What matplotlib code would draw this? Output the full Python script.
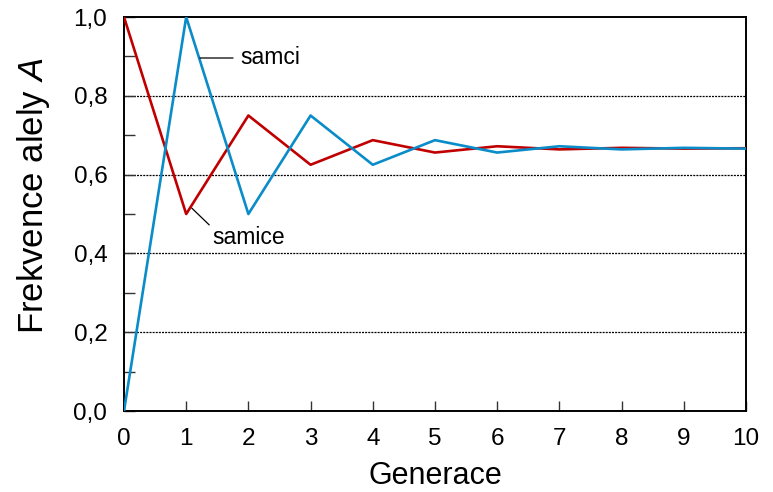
import matplotlib
matplotlib.use("Agg")
import matplotlib.pyplot as plt
from matplotlib.ticker import FixedLocator, FuncFormatter, MultipleLocator

plt.rcParams['font.family'] = ['Liberation Sans', 'DejaVu Sans']
plt.rcParams['mathtext.fontset'] = 'custom'
plt.rcParams['mathtext.rm'] = 'Liberation Sans'
plt.rcParams['mathtext.it'] = 'Liberation Sans:italic'

generace = [0, 1, 2, 3, 4, 5, 6, 7, 8, 9, 10]
samice = [1.0, 0.5, 0.75, 0.625, 0.6875, 0.656, 0.672, 0.664, 0.668, 0.666, 0.667]
samci = [0.0, 1.0, 0.5, 0.75, 0.625, 0.6875, 0.656, 0.672, 0.664, 0.668, 0.666]
y_ticks = [0.0, 0.2, 0.4, 0.6, 0.8, 1.0]

fig = plt.figure(figsize=(7.73, 4.92), dpi=100)
ax = fig.add_axes([0.1604, 0.1646, 0.8046, 0.8008])

for y in y_ticks[1:-1]:
    ax.axhline(y, color='black', linestyle=(0, (1.6, 0.9)), linewidth=0.9, zorder=1)

ax.plot(generace, samice, color='#C00000', linewidth=1.9, zorder=3)
ax.plot(generace, samci, color='#0A8CC8', linewidth=1.9, zorder=3)

ax.set_xlim(0, 10)
ax.set_ylim(0, 1)
ax.xaxis.set_major_locator(MultipleLocator(1))
ax.yaxis.set_major_locator(FixedLocator(y_ticks))
ax.yaxis.set_minor_locator(FixedLocator([0.1, 0.3, 0.5, 0.7, 0.9]))
ax.yaxis.set_major_formatter(FuncFormatter(lambda v, p: f"{v:.1f}".replace('.', ',')))
ax.tick_params(axis='both', which='both', direction='in', labelsize=17.5, width=1.0, color='#333333')
ax.tick_params(axis='y', which='both', length=8, pad=12)
ax.tick_params(axis='x', which='major', length=7, pad=12)
ax.tick_params(right=False, top=False)

for s in ax.spines.values():
    s.set_linewidth(1.4)
    s.set_color('black')

ax.set_xlabel('Generace', fontsize=22, va='center')
ax.xaxis.set_label_coords(0.5, -0.166)
ax.set_ylabel('Frekvence alely $\\mathit{A}$', fontsize=25, va='center')
ax.yaxis.set_label_coords(-0.146, 0.547)

ax.annotate('samci', xy=(1.22, 0.896), xytext=(1.865, 0.896), fontsize=16.5,
            va='center', ha='left',
            arrowprops=dict(arrowstyle='-', color='black', linewidth=0.9,
                            relpos=(0, 0.5), shrinkA=3, shrinkB=0))
ax.annotate('samice', xy=(1.09, 0.515), xytext=(1.415, 0.4416), fontsize=16.5,
            va='center', ha='left',
            arrowprops=dict(arrowstyle='-', color='black', linewidth=0.9,
                            relpos=(0.02, 0.85), shrinkA=0, shrinkB=0))

fig.savefig('out.png', dpi=100)
